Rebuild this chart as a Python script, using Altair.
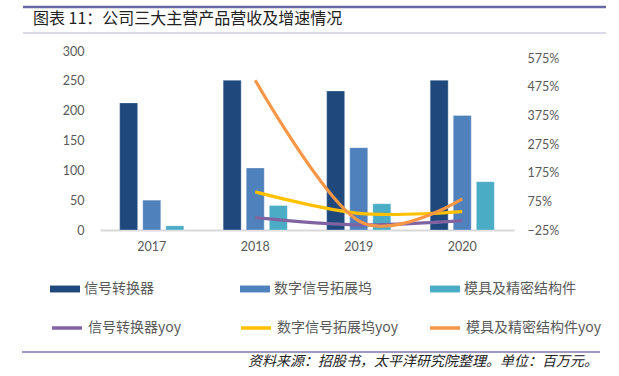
import altair as alt
import pandas as pd

# ---------------- data ----------------
years = ["2017", "2018", "2019", "2020"]
bar_series = ["信号转换器", "数字信号拓展坞", "模具及精密结构件"]
rev_signal = [213, 251, 233, 251]
rev_dock = [50, 104, 138, 192]
rev_mold = [7, 41, 44, 81]

yoy_years = ["2018", "2019", "2020"]
yoy_series = ["信号转换器yoy", "数字信号拓展坞yoy", "模具及精密结构件yoy"]
yoy_signal = [0.18, -0.07, 0.08]
yoy_dock = [1.08, 0.33, 0.39]
yoy_mold = [4.98, 0.07, 0.84]

left_ticks = [0, 50, 100, 150, 200, 250, 300]
right_ticks = [-0.25, 0.75, 1.75, 2.75, 3.75, 4.75, 5.75]

bar_colors = ["#1F497D", "#4F81BD", "#4BACC6"]
line_colors = ["#8064A2", "#FFC000", "#F79646"]

title_text = "图表 11：公司三大主营产品营收及增速情况"
source_text = "资料来源：招股书，太平洋研究院整理。单位：百万元。"

# ---------------- tables ----------------
bar_rows = []
for s, vals in zip(bar_series, [rev_signal, rev_dock, rev_mold]):
    for y, v in zip(years, vals):
        bar_rows.append({"year": y, "series": s, "value": v})
bars_df = pd.DataFrame(bar_rows)

line_rows = []
for s, vals in zip(yoy_series, [yoy_signal, yoy_dock, yoy_mold]):
    for y, v in zip(yoy_years, vals):
        line_rows.append({"year": y, "series": s, "yoy": v})
lines_df = pd.DataFrame(line_rows)

one = pd.DataFrame({"k": [0]})

NUM_FONT = "Lato, 'Noto Sans CJK SC'"
CJK_FONT = "'Noto Sans CJK SC'"
GREY = "#595959"

x_enc = alt.X(
    "year:N",
    scale=alt.Scale(domain=years, paddingInner=0.38, paddingOuter=0.19),
    axis=alt.Axis(
        title=None, labelAngle=0, ticks=False, domain=True,
        domainColor="#D9D9D9", domainWidth=2, labelPadding=10,
        labelFont=NUM_FONT, labelFontSize=12.5, labelColor=GREY,
    ),
)

bars = alt.Chart(bars_df).mark_bar(stroke="#FFFFFF", strokeWidth=0.6, strokeOpacity=0.5).encode(
    x=x_enc,
    xOffset=alt.XOffset(
        "series:N",
        scale=alt.Scale(domain=bar_series, paddingInner=0.22, paddingOuter=0),
    ),
    y=alt.Y(
        "value:Q",
        scale=alt.Scale(domain=[0, 300], nice=False, zero=True),
        axis=alt.Axis(
            title=None, orient="left", values=left_ticks, grid=False,
            ticks=False, domain=False, labelPadding=16,
            labelFont=NUM_FONT, labelFontSize=12.5, labelColor=GREY,
        ),
    ),
    color=alt.Color(
        "series:N",
        scale=alt.Scale(domain=bar_series, range=bar_colors),
        legend=alt.Legend(
            title=None, orient="none", legendX=-50, legendY=223,
            direction="horizontal", columns=3, gridAlign="all",
            columnPadding=44,
            symbolType="M-1,-0.23H1V0.23H-1Z", symbolSize=900,
            symbolStrokeWidth=0, symbolOpacity=1,
            labelFont=CJK_FONT, labelFontSize=14, labelColor=GREY,
            labelOffset=4, labelLimit=300,
        ),
    ),
)

lines = alt.Chart(lines_df).mark_line(
    interpolate="cardinal", tension=0, strokeWidth=3.2
).encode(
    x=alt.X("year:N"),
    y=alt.Y(
        "yoy:Q",
        scale=alt.Scale(domain=[-0.25, 6.0], nice=False, zero=False),
        axis=alt.Axis(
            title=None, orient="right", values=right_ticks, format=".0%",
            grid=False, ticks=False, domain=False, labelPadding=13,
            labelFont=NUM_FONT, labelFontSize=12.5, labelColor=GREY,
        ),
    ),
    color=alt.Color(
        "series:N",
        scale=alt.Scale(domain=yoy_series, range=line_colors),
        legend=alt.Legend(
            title=None, orient="none", legendX=-50, legendY=260,
            direction="horizontal", columns=3, gridAlign="all",
            columnPadding=11,
            symbolType="stroke", symbolSize=900, symbolStrokeWidth=3.5,
            labelFont=CJK_FONT, labelFontSize=14, labelColor=GREY,
            labelOffset=4, labelLimit=300,
        ),
    ),
    detail="series:N",
)

# ---------------- decorations ----------------
top_rule = alt.Chart(one).mark_rule(color="#6767A3", strokeWidth=2.5).encode(
    x=alt.value(-77), x2=alt.value(506), y=alt.value(-44)
)
sub_rule = alt.Chart(one).mark_rule(color="#DCD8E8", strokeWidth=2).encode(
    x=alt.value(-77), x2=alt.value(506), y=alt.value(-18)
)
foot_rule = alt.Chart(one).mark_rule(color="#8078A8", strokeWidth=1.5).encode(
    x=alt.value(-78), x2=alt.value(500), y=alt.value(301)
)
title = alt.Chart(one).mark_text(
    text=title_text, align="left", baseline="middle",
    font=CJK_FONT, fontSize=16, color="#222222",
).encode(x=alt.value(-67), y=alt.value(-32))
source = alt.Chart(one).mark_text(
    text=source_text, align="right", baseline="middle",
    font=CJK_FONT, fontSize=14, fontStyle="italic", color="#222222",
).encode(x=alt.value(498), y=alt.value(311))

chart = (
    alt.layer(bars, lines, top_rule, sub_rule, foot_rule, title, source)
    .resolve_scale(y="independent", color="independent")
    .properties(
        width=414, height=179,
        autosize=alt.AutoSizeParams(type="none"),
        padding={"left": 100, "top": 51, "right": 105, "bottom": 146},
        background="white",
    )
    .configure_view(stroke=None)
)

chart.save("out.html", embed_options={"renderer": "svg", "actions": False})
